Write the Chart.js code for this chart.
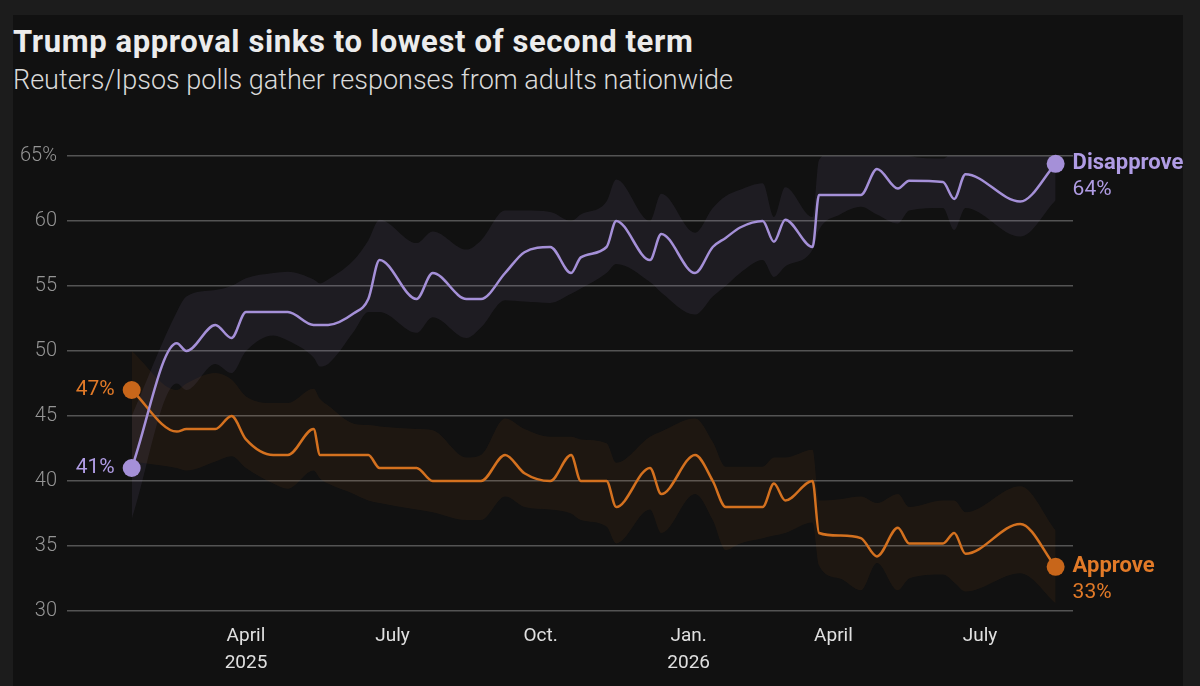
<!DOCTYPE html>
<html>
<head>
<meta charset="utf-8">
<script src="https://cdn.jsdelivr.net/npm/chart.js@4.4.1/dist/chart.umd.min.js"></script>
<style>
  html, body { margin: 0; padding: 0; background: #1c1c1c; }
  body { width: 1200px; height: 686px; position: relative; overflow: hidden; font-family: Roboto, "Noto Sans", sans-serif; }
  .panel { position: absolute; left: 13px; top: 15px; width: 1170px; height: 671px; background: #111111; }
  .title { position: absolute; left: 13px; top: 26px; margin: 0; font-size: 31px; line-height: 1; font-weight: 700; letter-spacing: 0.6px; color: #ececec; white-space: nowrap; }
  .subtitle { position: absolute; left: 13px; top: 67px; margin: 0; font-size: 27px; line-height: 1; font-weight: 300; color: #dadada; white-space: nowrap; }
  .wrap { position: absolute; left: 0; top: 0; width: 1200px; height: 686px; }
</style>
</head>
<body>
<div class="panel"></div>
<div class="title">Trump approval sinks to lowest of second term</div>
<div class="subtitle">Reuters/Ipsos polls gather responses from adults nationwide</div>
<div class="wrap"><canvas id="chart"></canvas></div>
<script>
// poll dates, as days since 1 Jan 2025
const pollDays = [19, 47, 53, 71, 81, 90, 107, 116, 132, 136, 141, 157, 166, 173, 196, 206, 227, 236, 251, 263,
    279, 292, 298, 314, 320, 341, 348, 369, 380, 388, 397, 411, 418, 425, 442, 446, 459, 472, 482, 495,
    502, 523, 530, 537, 571, 593];

const disapprove = [41.0, 50.6, 50.0, 52.0, 51.0, 53.0, 53.0, 53.0, 52.0, 52.0, 52.0, 52.9, 54.0, 57.0, 54.0, 56.0, 54.0, 54.0, 56.0, 57.6,
    58.0, 56.0, 57.2, 58.0, 60.0, 57.0, 59.0, 56.0, 58.0, 58.7, 59.5, 60.0, 58.4, 60.1, 58.0, 62.0, 62.0, 62.0, 64.0, 62.5,
    63.1, 63.0, 61.7, 63.6, 61.5, 64.4];
const disapproveHigh = [45.0, 53.0, 54.2, 54.7, 55.0, 55.6, 56.0, 56.1, 55.5, 55.2, 55.5, 57.0, 58.5, 60.1, 58.3, 59.2, 57.8, 58.5, 60.8, 60.8,
    60.7, 60.0, 60.5, 61.5, 63.2, 60.0, 62.1, 59.1, 61.0, 61.9, 62.4, 62.9, 60.3, 62.6, 60.3, 64.7, 65.5, 66.5, 66.3, 65.5,
    65.0, 64.8, 65.5, 66.2, 65.2, 67.0];
const disapproveLow = [37.0, 47.5, 47.0, 49.0, 48.3, 50.0, 51.2, 50.8, 49.5, 48.8, 49.0, 51.5, 53.0, 53.0, 51.4, 52.6, 51.0, 51.8, 53.9, 53.8,
    53.7, 54.4, 54.8, 56.0, 56.7, 55.3, 54.5, 52.8, 54.2, 55.0, 56.0, 57.0, 55.7, 56.5, 57.8, 59.3, 60.5, 61.1, 60.5, 59.8,
    60.8, 61.0, 59.3, 61.0, 58.8, 61.6];

const approve = [47.0, 43.8, 44.0, 44.0, 45.0, 43.2, 42.0, 42.0, 44.0, 42.0, 42.0, 42.0, 42.0, 41.0, 41.0, 40.0, 40.0, 40.0, 42.0, 40.6,
    40.0, 42.0, 40.0, 40.0, 38.0, 41.0, 39.0, 42.0, 40.0, 38.0, 38.0, 38.0, 39.8, 38.5, 40.0, 36.0, 35.8, 35.6, 34.2, 36.4,
    35.2, 35.2, 36.0, 34.4, 36.7, 33.4];
const approveHigh = [50.0, 47.0, 47.5, 48.3, 47.8, 46.5, 46.0, 46.0, 47.1, 46.3, 45.8, 44.4, 44.3, 44.2, 44.0, 43.9, 41.8, 42.0, 44.8, 44.0,
    43.4, 43.4, 43.2, 42.9, 41.4, 43.4, 43.8, 44.8, 43.0, 41.1, 41.1, 41.1, 41.8, 41.8, 42.4, 38.5, 38.6, 38.8, 38.3, 39.0,
    38.0, 38.5, 38.5, 37.6, 39.6, 36.2];
const approveLow = [41.5, 41.0, 40.8, 41.5, 41.9, 41.0, 39.8, 39.4, 40.8, 40.2, 39.8, 39.0, 38.5, 38.3, 37.8, 37.6, 37.0, 37.0, 38.8, 38.0,
    37.8, 37.5, 37.0, 36.5, 35.2, 37.8, 36.0, 39.0, 37.0, 34.7, 35.2, 35.6, 35.8, 36.0, 36.8, 33.5, 32.5, 31.6, 33.7, 31.6,
    32.5, 32.8, 32.2, 31.5, 32.9, 30.6];

const seriesNames = ["Disapprove", "Approve"];
const tickDays = [90, 181, 273, 365, 455, 546];
const tickLabels = [["April", "2025"], "July", "Oct.", ["Jan.", "2026"], "April", "July"];
const yTicks = [30, 35, 40, 45, 50, 55, 60, 65];

const PURPLE = "#a590d8";
const PURPLE_TEXT = "#b09ce4";
const ORANGE = "#d4711f";
const ORANGE_DOT = "#c8661a";
const ORANGE_TEXT = "#e27a28";

const pts = (arr) => arr.map((y, i) => ({ x: pollDays[i], y: y }));
const last = pollDays.length - 1;
const dotRadius = (c) => (c.dataIndex === 0 || c.dataIndex === last ? 9 : 0);

// labels at the start and end of each line
const lineLabels = {
    id: "lineLabels",
    afterDatasetsDraw(chart) {
        const ctx = chart.ctx;
        const sets = [[0, disapprove, PURPLE_TEXT], [1, approve, ORANGE_TEXT]];
        ctx.save();
        sets.forEach(([idx, values, color]) => {
            const pts = chart.getDatasetMeta(idx).data;
            const first = pts[0];
            const end = pts[pts.length - 1];
            ctx.fillStyle = color;
            ctx.textBaseline = "middle";
            ctx.textAlign = "right";
            ctx.font = "400 21px Roboto";
            ctx.fillText(Math.round(values[0]) + "%", first.x - 17, first.y);
            ctx.textAlign = "left";
            ctx.font = "700 22px Roboto";
            ctx.fillText(seriesNames[idx], end.x + 17, end.y);
            ctx.font = "400 21px Roboto";
            ctx.fillText(Math.round(values[values.length - 1]) + "%", end.x + 17, end.y + 26);
        });
        ctx.restore();
    },
};

const band = (data, color, fill) => ({
    data: pts(data),
    borderWidth: 0,
    pointRadius: 0,
    backgroundColor: color,
    fill: fill,
    cubicInterpolationMode: "monotone",
    clip: false,
    order: 5,
});

new Chart(document.getElementById("chart"), {
    type: "line",
    data: {
        datasets: [
            {
                label: seriesNames[0],
                data: pts(disapprove),
                borderColor: PURPLE,
                borderWidth: 2.5,
                pointRadius: dotRadius,
                pointBackgroundColor: PURPLE,
                pointBorderWidth: 0,
                cubicInterpolationMode: "monotone",
                clip: false,
                order: 1,
            },
            {
                label: seriesNames[1],
                data: pts(approve),
                borderColor: ORANGE,
                borderWidth: 2.5,
                pointRadius: dotRadius,
                pointBackgroundColor: ORANGE_DOT,
                pointBorderWidth: 0,
                cubicInterpolationMode: "monotone",
                clip: false,
                order: 1,
            },
            band(disapproveHigh, "rgba(167,143,214,0.09)", "+1"),
            band(disapproveLow, "rgba(0,0,0,0)", false),
            band(approveHigh, "rgba(217,115,31,0.07)", "+1"),
            band(approveLow, "rgba(0,0,0,0)", false),
        ],
    },
    options: {
        responsive: true,
        maintainAspectRatio: false,
        animation: false,
        layout: { padding: { left: 0, right: 127, top: 156, bottom: 0 } },
        plugins: {
            legend: { display: false },
            tooltip: { enabled: false },
        },
        scales: {
            x: {
                type: "linear",
                min: -21.2,
                max: 603.8,
                grid: { display: false },
                border: { display: false },
                afterBuildTicks: (scale) => {
                    scale.ticks = tickDays.map((v) => ({ value: v }));
                },
                afterFit: (scale) => {
                    scale.height = 75;
                },
                ticks: {
                    autoSkip: false,
                    maxRotation: 0,
                    padding: 4,
                    color: "#e0e0e0",
                    font: { family: "Roboto", size: 19, lineHeight: 1.4 },
                    callback: (value, index) => tickLabels[index],
                },
            },
            y: {
                min: 30,
                max: 65,
                grid: { color: "#545454", lineWidth: 1.5, drawTicks: false },
                border: { display: false },
                afterBuildTicks: (scale) => {
                    scale.ticks = yTicks.map((v) => ({ value: v }));
                },
                afterFit: (scale) => {
                    scale.width = 67;
                },
                ticks: {
                    padding: 10,
                    color: "#959595",
                    font: { family: "Roboto", size: 20, weight: 300 },
                    callback: (value) => (value === 65 ? value + "%" : value),
                },
            },
        },
    },
    plugins: [lineLabels],
});
</script>
</body>
</html>
